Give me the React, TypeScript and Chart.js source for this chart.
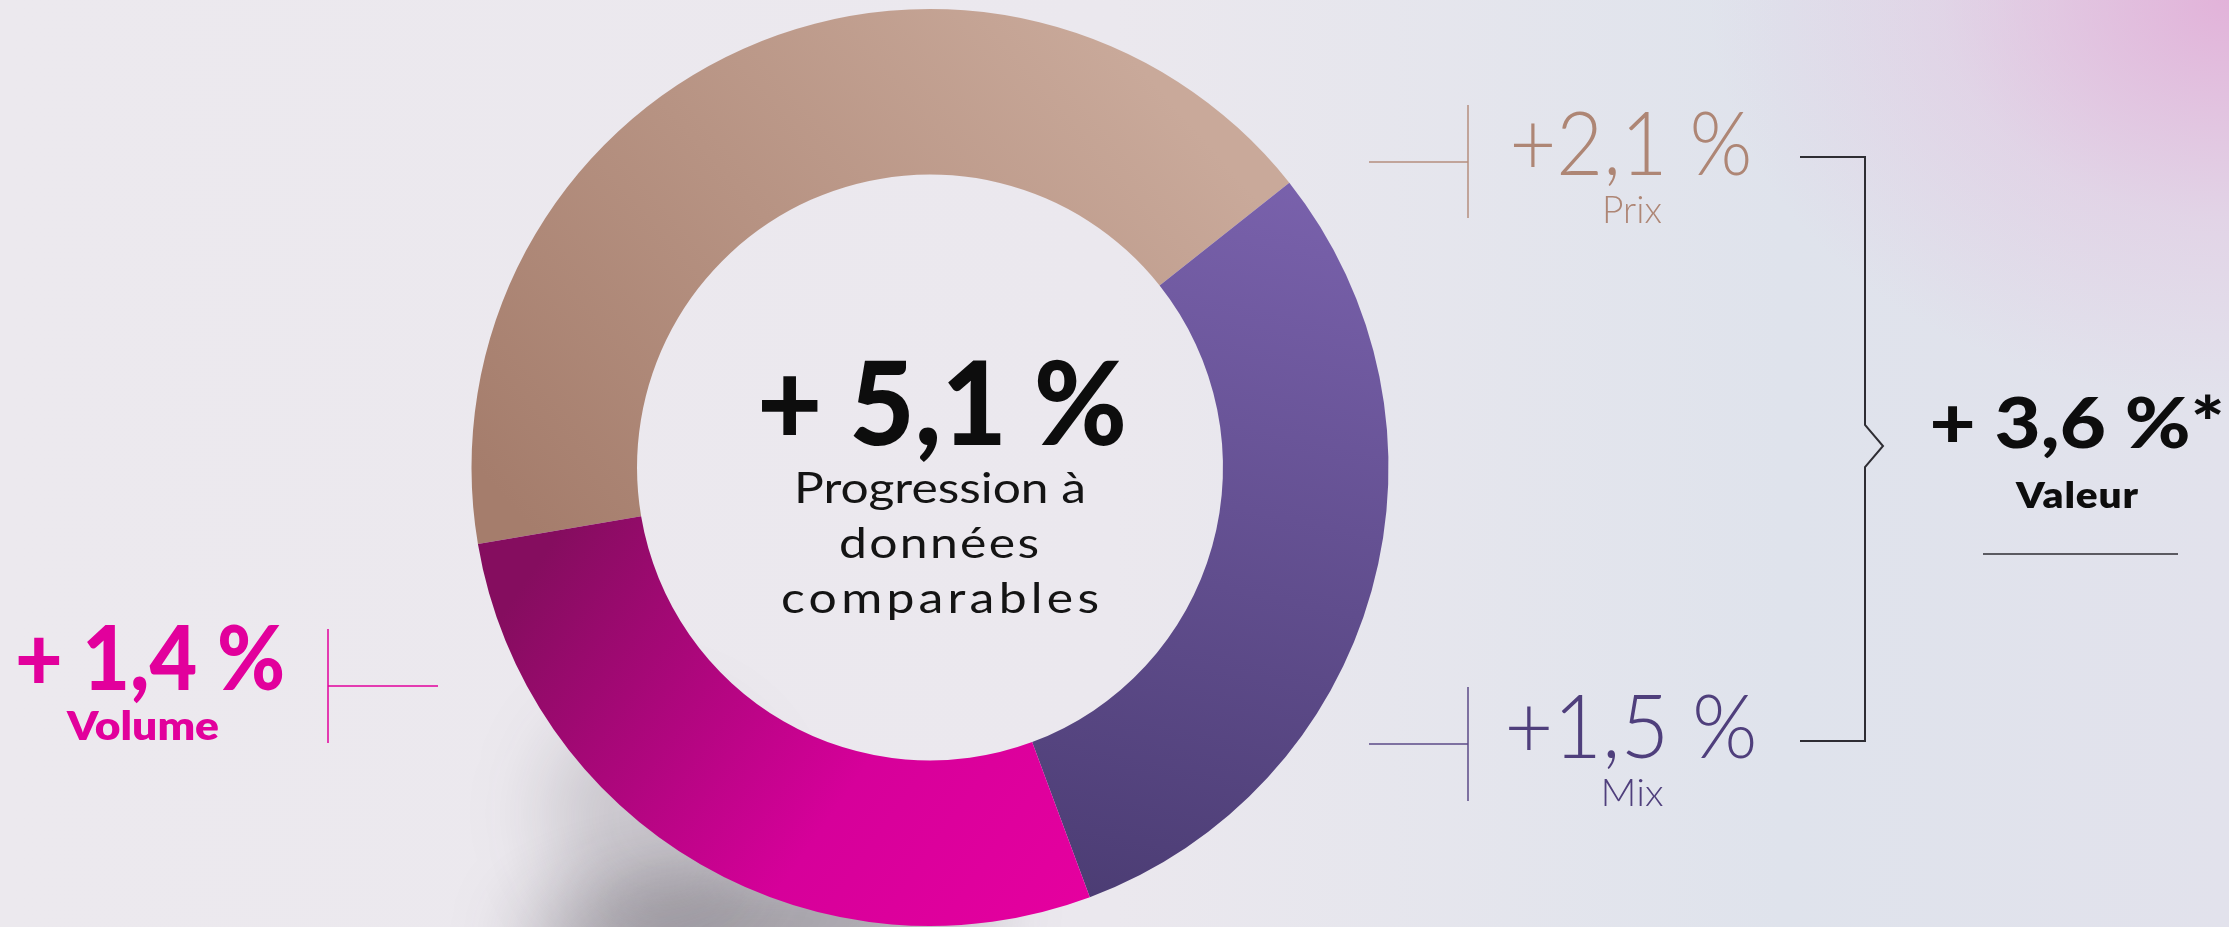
import React, { useEffect, useRef } from "react";
import { Chart, registerables } from "chart.js";

Chart.register(...registerables);

const categories = ["Prix", "Mix", "Volume"];
const values = [2.1, 1.5, 1.4];
const valueLabels = ["+2,1 %", "+1,5 %", "+ 1,4 %"];
const totalLabel = "+ 5,1 %";
const totalCaption = ["Progression à", "données", "comparables"];
const valeurLabel = "+ 3,6 %*";
const valeurCaption = "Valeur";

const W = 2229;
const H = 927;
const FONT = "Lato, 'Open Sans', sans-serif";

function drawText(
  ctx: CanvasRenderingContext2D,
  text: string,
  cx: number,
  baseline: number,
  font: string,
  color: string,
  targetW?: number
) {
  ctx.save();
  ctx.font = font;
  ctx.fillStyle = color;
  ctx.textBaseline = "alphabetic";
  ctx.textAlign = "left";
  (ctx as any).letterSpacing = "0px";
  const m = ctx.measureText(text).width;
  const n = Array.from(text).length;
  let sx = 1;
  let ls = 0;
  if (targetW) {
    sx = Math.max(0.9, Math.min(1.16, targetW / m));
    const rem = targetW - m * sx;
    if (n > 1) ls = Math.max(-4, Math.min(24, rem / (n - 1))) / sx;
  }
  (ctx as any).letterSpacing = ls + "px";
  const w = (m + ls * (n - 1)) * sx;
  ctx.translate(cx - w / 2, baseline);
  ctx.scale(sx, 1);
  ctx.fillText(text, 0, 0);
  ctx.restore();
}

function line(ctx: CanvasRenderingContext2D, pts: number[][], color: string, lw: number) {
  ctx.save();
  ctx.strokeStyle = color;
  ctx.lineWidth = lw;
  ctx.lineJoin = "miter";
  ctx.beginPath();
  pts.forEach((p, i) => (i === 0 ? ctx.moveTo(p[0], p[1]) : ctx.lineTo(p[0], p[1])));
  ctx.stroke();
  ctx.restore();
}

const overlayPlugin = {
  id: "overlay",
  beforeDatasetsDraw(chart: any) {
    const ctx: CanvasRenderingContext2D = chart.ctx;
    const a = chart.chartArea;
    const cx = (a.left + a.right) / 2;
    const cy = (a.top + a.bottom) / 2;
    const r = Math.min(a.width, a.height) / 2;
    ctx.save();
    ctx.filter = "blur(40px)";
    ctx.fillStyle = "rgba(50,45,55,0.42)";
    ctx.beginPath();
    ctx.ellipse(cx - 0.38 * r, cy + 1.0 * r, 0.5 * r, 0.12 * r, -0.08, 0, Math.PI * 2);
    ctx.fill();
    ctx.fillStyle = "rgba(50,45,55,0.18)";
    ctx.beginPath();
    ctx.ellipse(cx - 0.6 * r, cy + 0.78 * r, 0.22 * r, 0.25 * r, -0.6, 0, Math.PI * 2);
    ctx.fill();
    ctx.restore();
  },
  afterDatasetsDraw(chart: any) {
    const ctx: CanvasRenderingContext2D = chart.ctx;
    const tan = "#ae8675";
    const purple = "#4f3f7c";
    const pink = "#e2009c";
    const dark = "#2e2d33";

    // connectors
    line(ctx, [[1369, 162], [1468, 162]], "#b48e7e", 1.5);
    line(ctx, [[1468, 105], [1468, 218]], "#b48e7e", 1.5);
    line(ctx, [[1369, 744], [1468, 744]], "#5b4a87", 1.5);
    line(ctx, [[1468, 687], [1468, 801]], "#5b4a87", 1.5);
    line(ctx, [[328, 629], [328, 743]], pink, 1.5);
    line(ctx, [[328, 686], [438, 686]], pink, 1.5);
    line(
      ctx,
      [[1800, 157], [1865, 157], [1865, 425], [1883, 446], [1865, 467], [1865, 741], [1800, 741]],
      dark,
      2
    );
    line(ctx, [[1983, 554], [2178, 554]], dark, 1.5);

    // center
    drawText(ctx, totalLabel, 942, 445, `900 116px ${FONT}`, "#0d0d0d", 370);
    drawText(ctx, totalCaption[0], 940, 503, `400 43px ${FONT}`, "#141414", 292);
    drawText(ctx, totalCaption[1], 939, 558, `400 43px ${FONT}`, "#141414", 200);
    drawText(ctx, totalCaption[2], 940, 613, `400 43px ${FONT}`, "#141414", 318);

    // Prix
    drawText(ctx, valueLabels[0], 1631, 175, `300 88px ${FONT}`, tan, 243);
    drawText(ctx, categories[0], 1632, 223, `300 37px ${FONT}`, tan, 60);
    // Mix
    drawText(ctx, valueLabels[1], 1631, 758, `300 88px ${FONT}`, purple, 253);
    drawText(ctx, categories[1], 1632, 806, `300 37px ${FONT}`, purple, 63);
    // Volume
    drawText(ctx, valueLabels[2], 150, 690, `900 89px ${FONT}`, pink, 270);
    drawText(ctx, categories[2], 143, 740, `800 40px ${FONT}`, pink, 152);
    // Valeur
    drawText(ctx, valeurLabel, 2077, 448, `900 71px ${FONT}`, "#0d0d0d", 295);
    drawText(ctx, valeurCaption, 2077, 508, `800 35px ${FONT}`, "#0d0d0d", 122);
  },
};

function segColor(context: any) {
  const chart = context.chart;
  const a = chart.chartArea;
  if (!a) return "#999";
  const ctx: CanvasRenderingContext2D = chart.ctx;
  const cx = (a.left + a.right) / 2;
  const cy = (a.top + a.bottom) / 2;
  const r = Math.min(a.width, a.height) / 2;
  const i = context.dataIndex;
  if (i === 0) {
    const g = ctx.createLinearGradient(cx - 0.9 * r, cy + 0.1 * r, cx + 0.35 * r, cy - r);
    g.addColorStop(0, "#a57d6c");
    g.addColorStop(1, "#c9a99a");
    return g;
  }
  if (i === 1) {
    const g = ctx.createLinearGradient(cx + 0.6 * r, cy - 0.7 * r, cx + 0.25 * r, cy + 0.95 * r);
    g.addColorStop(0, "#7a62ad");
    g.addColorStop(1, "#4b3c73");
    return g;
  }
  const g = ctx.createLinearGradient(cx - 0.85 * r, cy + 0.2 * r, cx + 0.3 * r, cy + r);
  g.addColorStop(0, "#850d5f");
  g.addColorStop(0.6, "#d6009a");
  g.addColorStop(1, "#e5009f");
  return g;
}

export default function App() {
  const ref = useRef<HTMLCanvasElement | null>(null);
  useEffect(() => {
    if (!ref.current) return;
    const chart = new Chart(ref.current, {
      type: "doughnut",
      data: {
        labels: categories,
        datasets: [
          {
            data: values,
            backgroundColor: segColor as any,
            borderWidth: 0,
            hoverOffset: 0,
            hoverBorderWidth: 0,
          },
        ],
      },
      options: {
        responsive: false,
        animation: false,
        devicePixelRatio: 1,
        rotation: -99.6,
        cutout: "63.9%",
        layout: { padding: { left: 471.5, right: 840.5, top: 9, bottom: 1 } },
        events: [],
        plugins: {
          legend: { display: false },
          tooltip: { enabled: false },
        },
      } as any,
      plugins: [overlayPlugin],
    });
    return () => chart.destroy();
  }, []);

  return (
    <div
      style={{
        position: "fixed",
        left: 0,
        top: 0,
        width: W,
        height: H,
        overflow: "hidden",
        background:
          "radial-gradient(ellipse 520px 400px at 100% 0%, rgba(226,170,214,0.85), rgba(226,170,214,0.25) 55%, rgba(226,170,214,0) 100%), linear-gradient(90deg, #ece9ee 0%, #ebe8ee 50%, #dfe3ec 80%, #e2e2ec 100%)",
      }}
    >
      <canvas ref={ref} width={W} height={H} style={{ display: "block", width: W, height: H }} />
    </div>
  );
}
